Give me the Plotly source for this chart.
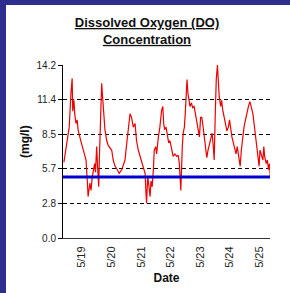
import plotly.graph_objects as go

# Time in days of May (e.g. 19.5 = May 19, noon)
days = [18.39, 18.48, 18.57, 18.63, 18.67, 18.69, 18.73, 18.76, 18.80, 18.84, 18.87, 18.96,
        19.04, 19.14, 19.18, 19.21, 19.27, 19.31, 19.35, 19.40, 19.43, 19.46, 19.50, 19.53,
        19.57, 19.59, 19.63, 19.67, 19.70, 19.74, 19.78, 19.84, 19.89, 19.95, 20.01, 20.06,
        20.12, 20.20, 20.26, 20.35, 20.40, 20.46, 20.52, 20.57, 20.63, 20.68, 20.74, 20.80,
        20.85, 20.91, 20.97, 21.02, 21.08, 21.14, 21.17, 21.19, 21.23, 21.27, 21.31, 21.34,
        21.38, 21.42, 21.45, 21.50, 21.53, 21.59, 21.64, 21.70, 21.74, 21.77, 21.80, 21.85,
        21.89, 21.94, 21.98, 22.04, 22.09, 22.15, 22.21, 22.26, 22.30, 22.35, 22.37, 22.40,
        22.43, 22.47, 22.50, 22.53, 22.56, 22.59, 22.63, 22.66, 22.71, 22.75, 22.80, 22.84,
        22.89, 22.93, 22.98, 23.02, 23.06, 23.09, 23.14, 23.18, 23.23, 23.27, 23.32, 23.36,
        23.41, 23.45, 23.48, 23.52, 23.55, 23.59, 23.62, 23.65, 23.70, 23.73, 23.77, 23.81,
        23.86, 23.91, 23.96, 24.00, 24.04, 24.08, 24.13, 24.18, 24.22, 24.26, 24.31, 24.36,
        24.40, 24.45, 24.49, 24.54, 24.58, 24.64, 24.69, 24.74, 24.79, 24.83, 24.87, 24.92,
        24.97, 25.00, 25.03, 25.08, 25.13, 25.16, 25.19, 25.24, 25.28, 25.32, 25.35, 25.38]

do_mgl = [6.2, 7.5, 9.1, 11.9, 13.1, 10.4, 11.3, 10.1, 9.4, 9.7, 8.9, 8.0,
          7.2, 6.4, 4.8, 3.4, 4.5, 3.9, 5.0, 5.6, 6.1, 5.4, 7.5, 5.9,
          4.2, 6.4, 10.2, 12.7, 11.6, 10.0, 8.9, 8.0, 7.6, 7.4, 7.2, 6.4,
          5.9, 5.6, 5.3, 5.6, 5.9, 6.4, 7.8, 8.9, 10.2, 9.9, 9.1, 9.4,
          8.0, 7.2, 6.7, 6.4, 5.9, 5.3, 3.7, 2.85, 5.1, 4.2, 3.4, 4.7,
          4.2, 5.6, 7.2, 7.5, 6.9, 8.3, 9.1, 10.5, 10.8, 9.4, 8.9, 9.1,
          8.3, 7.8, 8.0, 7.2, 6.7, 6.9, 6.7, 6.8, 6.1, 3.9, 5.9, 7.5,
          8.6, 9.1, 10.2, 11.6, 13.0, 11.9, 11.3, 10.8, 11.1, 10.7, 10.8, 10.2,
          9.4, 8.9, 8.3, 9.9, 9.9, 9.4, 8.3, 7.2, 6.6, 7.2, 7.8, 8.3,
          8.6, 7.5, 6.4, 10.5, 13.0, 14.2, 12.5, 11.6, 10.8, 11.3, 10.5, 9.9,
          9.4, 8.8, 9.1, 9.7, 8.9, 8.3, 7.8, 7.2, 6.9, 7.5, 6.7, 5.9,
          7.2, 8.3, 9.1, 9.7, 10.2, 10.8, 11.2, 10.8, 10.2, 9.4, 8.6, 7.5,
          6.4, 5.9, 7.2, 6.7, 6.4, 7.5, 6.7, 6.1, 6.4, 5.6, 6.1, 5.0]

standard_mgl = 5.0
x_range = [18.36, 25.37]
y_ticks = [0.0, 2.84, 5.68, 8.52, 11.36, 14.2]
y_tick_labels = ["0.0", "2.8", "5.7", "8.5", "11.4", "14.2"]
x_ticks = [19, 20, 21, 22, 23, 24, 25]
x_tick_labels = ["5/19", "5/20", "5/21", "5/22", "5/23", "5/24", "5/25"]

FONT = "Liberation Sans, Arial, sans-serif"

fig = go.Figure()
fig.add_trace(go.Scatter(x=days, y=do_mgl, mode="lines",
                         line=dict(color="#EE0000", width=1.2), showlegend=False,
                         hoverinfo="skip"))
fig.add_trace(go.Scatter(x=x_range, y=[standard_mgl, standard_mgl], mode="lines",
                         line=dict(color="#0000CC", width=3), showlegend=False,
                         hoverinfo="skip"))

W, H = 290, 293
L, R, T, B = 63, 20, 65, 55
pw, ph = W - L - R, H - T - B


def px(xp):
    return (xp - L) / pw


def py(yp):
    return (H - B - yp) / ph


border = "#2E2E8F"
shapes = [
    dict(type="rect", xref="paper", yref="paper", x0=px(0), x1=px(6), y0=py(H), y1=py(0),
         fillcolor=border, line=dict(width=0), layer="below"),
    dict(type="rect", xref="paper", yref="paper", x0=px(0), x1=px(W), y0=py(5), y1=py(0),
         fillcolor=border, line=dict(width=0), layer="below"),
]

fig.update_layout(
    width=W, height=H,
    margin=dict(l=L, r=R, t=T, b=B, pad=0),
    paper_bgcolor="white", plot_bgcolor="white",
    font=dict(family=FONT, size=10, color="#222222"),
    title=dict(text="<b><u>Dissolved Oxygen (DO)</u></b><br><b><u>Concentration</u></b>",
               x=(147) / W, xanchor="center", y=1 - 27 / H, yanchor="middle",
               font=dict(family=FONT, size=13, color="#111111")),
    shapes=shapes,
    annotations=[dict(text="<b>(mg/l)</b>", xref="paper", yref="paper",
                      x=px(25), y=py(142), xanchor="center", yanchor="middle",
                      textangle=-90, showarrow=False,
                      font=dict(family=FONT, size=12, color="#111111"))],
    xaxis=dict(range=x_range, tickvals=x_ticks, ticktext=x_tick_labels, tickangle=-90,
               showgrid=False, zeroline=False, showline=True, linecolor="#333333",
               linewidth=1, ticks="outside", ticklen=3, tickcolor="white", fixedrange=True,
               tickfont=dict(size=11),
               title=dict(text="<b>Date</b>", font=dict(size=12, color="#111111"), standoff=6)),
    yaxis=dict(range=[0, 14.2], tickvals=y_ticks, ticktext=y_tick_labels,
               showgrid=True, gridcolor="#000000", griddash="4px,3px", gridwidth=1,
               zeroline=False, showline=True, linecolor="#000000", linewidth=1,
               ticks="outside", ticklen=4, tickcolor="#000000", fixedrange=True),
)

fig.write_html("out.html", config={"displayModeBar": False},
               post_script="document.body.style.margin='0px';document.body.style.overflow='hidden';")
